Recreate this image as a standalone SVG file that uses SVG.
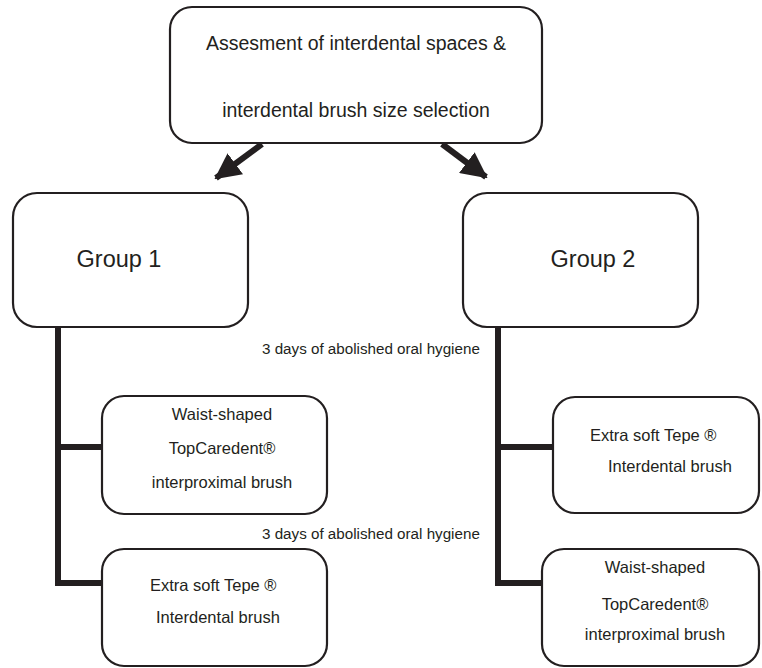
<svg xmlns="http://www.w3.org/2000/svg" width="762" height="668" viewBox="0 0 762 668">
<defs>
<style>
.box{fill:#fff;stroke:#231f20;stroke-width:2.2}
.t{font-family:"Liberation Sans",Arial,sans-serif;fill:#231f20}
.top{font-size:19.5px}
.grp{font-size:23.5px}
.sub{font-size:16.5px}
.lbl{font-size:15.2px}
.con{stroke:#231f20;stroke-width:6;fill:none}
.arr{stroke:#231f20;stroke-width:6;fill:none}
</style>
<marker id="ah" markerUnits="userSpaceOnUse" markerWidth="26" markerHeight="26" refX="24" refY="13" orient="auto" viewBox="0 0 26 26">
<path d="M0,0 L26,13 L0,26 Z" fill="#231f20"/>
</marker>
</defs>
<rect width="762" height="668" fill="#fff"/>
<g id="connectors">
<line class="arr" x1="262" y1="144" x2="216" y2="178" marker-end="url(#ah)"/>
<line class="arr" x1="442" y1="144" x2="486" y2="177" marker-end="url(#ah)"/>
<polyline class="con" points="58,327 58,583 103,583"/>
<line class="con" x1="58" y1="447" x2="103" y2="447"/>
<polyline class="con" points="498,327 498,583 542,583"/>
<line class="con" x1="498" y1="447" x2="553" y2="447"/>
</g>
<g id="top">
<rect class="box" x="170" y="7" width="372" height="136" rx="22"/>
<text class="t top" x="356" y="50" text-anchor="middle">Assesment of interdental spaces &amp;</text>
<text class="t top" x="356" y="117" text-anchor="middle">interdental brush size selection</text>
</g>
<g id="group1">
<rect class="box" x="13" y="193" width="235" height="134" rx="24"/>
<text class="t grp" x="119" y="267" text-anchor="middle">Group 1</text>
</g>
<g id="group2">
<rect class="box" x="463" y="193" width="235" height="134" rx="24"/>
<text class="t grp" x="593" y="267" text-anchor="middle">Group 2</text>
</g>
<g id="label1">
<text class="t lbl" x="262" y="354">3 days of abolished oral hygiene</text>
</g>
<g id="label2">
<text class="t lbl" x="262" y="539">3 days of abolished oral hygiene</text>
</g>
<g id="g1a">
<rect class="box" x="102" y="396" width="225" height="118" rx="22"/>
<text class="t sub" x="222" y="420" text-anchor="middle">Waist-shaped</text>
<text class="t sub" x="222" y="454" text-anchor="middle">TopCaredent®</text>
<text class="t sub" x="222" y="488" text-anchor="middle">interproximal brush</text>
</g>
<g id="g1b">
<rect class="box" x="102" y="549" width="225" height="117" rx="22"/>
<text class="t sub" x="150" y="591">Extra soft Tepe ®</text>
<text class="t sub" x="156" y="623">Interdental brush</text>
</g>
<g id="g2a">
<rect class="box" x="553" y="397" width="206" height="116" rx="22"/>
<text class="t sub" x="590" y="441">Extra soft Tepe ®</text>
<text class="t sub" x="608" y="472">Interdental brush</text>
</g>
<g id="g2b">
<rect class="box" x="542" y="549" width="217" height="117" rx="22"/>
<text class="t sub" x="655" y="573" text-anchor="middle">Waist-shaped</text>
<text class="t sub" x="655" y="610" text-anchor="middle">TopCaredent®</text>
<text class="t sub" x="655" y="640" text-anchor="middle">interproximal brush</text>
</g>
</svg>
